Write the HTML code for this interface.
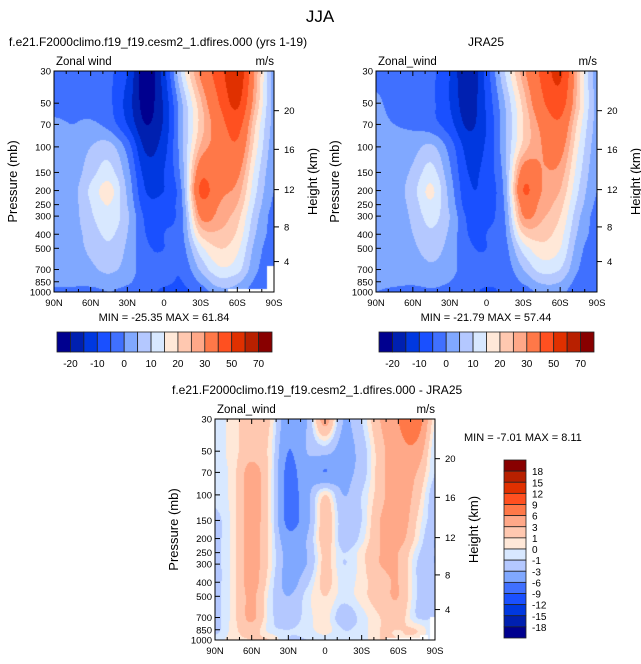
<!DOCTYPE html>
<html><head><meta charset="utf-8">
<style>
html,body{margin:0;padding:0;background:#fff;}
#wrap{position:relative;width:641px;height:664px;overflow:hidden;font-family:"Liberation Sans",sans-serif;}
canvas{position:absolute;}
svg{position:absolute;left:0;top:0;}
</style></head>
<body>
<div id="wrap">
<canvas id="c1"></canvas>
<canvas id="c2"></canvas>
<canvas id="c3"></canvas>
<svg id="ov" width="641" height="664"></svg>
</div>
<script>
const levs=[30,50,70,100,150,200,250,300,400,500,700,850,1000];
const lats=[90,75,60,45,30,15,0,-15,-30,-45,-60,-75,-90];
const latTicks=[90,60,30,0,-30,-60,-90];
const latTickLabels=["90N","60N","30N","0","30S","60S","90S"];
const heightTickLabels=["20","16","12","8","4"];
const heightTickP=[56.3,104,197,356,617];
const bounds1=[-20,-15,-10,-5,0,5,10,15,20,25,30,40,50,60,70];
const cbLabels1=["-20","-10","0","10","20","30","50","70"];
const bounds2=[-18,-15,-12,-9,-6,-3,-1,0,1,3,6,9,12,15,18];
const cesm=[
[-2,-2,-3,-4,-10,-23,-12,12,32,45,58,28,2],
[-2,-2,-3,-4,-12,-22,-14,5,24,40,52,25,3],
[1,0,1,-2,-10,-20,-14,4,22,35,44,20,3],
[2,1,5,7,-2,-16,-12,4,26,33,38,17,2],
[2,2,8,12,2,-12,-10,3,36,32,32,13,1],
[2,3,11,17,4,-10,-10,1,42,32,28,11,0],
[2,3,10,15,5,-8,-7,0,36,30,25,9,-1],
[2,3,9,14,6,-6,-6,-1,31,28,22,7,-2],
[2,3,7,11,5,-5,-5,-1,21,24,19,5,-2],
[2,3,6,9,4,-4,-5,-2,13,20,16,3,-3],
[1,2,4,6,3,-3,-4,-4,6,14,12,1,-3],
[1,1,2,3,1,-3,-4,-5,1,8,6,-1,-3],
[-1,-1,-2,0,-2,-3,-6,-6,-3,3,3,-3,-3]];
const jra=[
[-2,-3,-3,-4,-10,-20,-8,10,28,42,52,22,2],
[1,-2,-3,-4,-10,-18,-9,5,22,38,45,22,3],
[1,0,-1,-3,-8,-16,-10,4,20,32,38,18,3],
[1,1,3,6,-2,-12,-9,4,22,30,33,15,2],
[1,2,6,12,1,-10,-8,3,34,30,28,12,1],
[1,2,8,16,3,-9,-8,2,40,30,25,10,0],
[1,2,7,14,4,-8,-7,1,34,28,22,8,-1],
[1,2,6,12,5,-6,-6,0,30,26,20,6,-2],
[1,2,5,9,4,-5,-5,-1,20,22,17,4,-2],
[1,2,4,7,3,-4,-5,-2,12,18,15,2,-3],
[1,1,2,4,2,-3,-4,-3,5,12,10,0,-3],
[1,1,1,2,0,-3,-4,-4,1,6,5,-2,-3],
[0,-1,-2,-1,-2,-3,-6,-4,-3,2,2,-4,-3]];
const diff=[
[-0.5,0.5,2,1,-5,-3,4,-3,-1,3,6,8,0],
[-0.5,0.5,2,0.5,-6,-3,-2,-4,-2,2,5,5,-1],
[-0.5,0.5,4,0.5,-7,-4,-6,-4,-2,2,5,3,-1],
[-0.5,0.5,4,0.5,-7,-4,1,-3,-1,2,5,2,-2],
[-1.5,0.5,4,0.5,-7,-4,2,-2,-1,3,5,1,-2],
[-1.5,0.5,4,0.5,-5,-3,2,-2,-0.5,3,4,0.5,-3],
[-1.5,0.5,4,0.5,-4,-3,1.5,-1,0.5,3,3,-0.5,-3],
[-1.5,0.5,4,0.5,-4,-3,1.5,-1,0.5,3,3,-1,-3],
[-1.5,0.5,4,0,-4,-1.5,1.5,-0.5,0.5,2,3,-1,-2],
[-1.5,0.5,3.5,-0.5,-3,-0.5,1,-0.5,0.5,2,3,-1,-2],
[-1.5,0.5,3.5,-0.5,-2,-0.5,0.5,-2,-0.5,1,2,-1,-1],
[-1.5,0.5,2,-0.5,-1,-0.5,0.5,-1,-0.5,1,1,1,-1],
[-0.5,0.5,1,1,-1,-1,-0.5,-1,-0.5,1,1,0.5,-1]];
const mask1=[[-52,-84,950],[-84,-90,660]];
const mask2=[];
const mask3=[[-50,-78,965],[-78,-84,925],[-86,-90,690]];
const colors=["#00008f","#0020b0","#0038e0","#1a50ff","#4070ff","#80a8ff","#b4c8ff","#d8e8ff","#ffe8d8","#ffc8b0","#ffa888","#ff7848","#ff5020","#e03000","#b82000","#880000"];

const L30=Math.log(30),LR=Math.log(1000/30);
function yOf(p,top,h){return top+(Math.log(p)-L30)/LR*h;}
function xOf(lat,left,w){return left+(90-lat)/180*w;}
function cr(p0,p1,p2,p3,t){return 0.5*((2*p1)+(-p0+p2)*t+(2*p0-5*p1+4*p2-p3)*t*t+(-p0+3*p1-3*p2+p3)*t*t*t);}
function sample(g,r,c){
  const R=g.length-1,C=g[0].length-1;
  const r1=Math.min(Math.floor(r),R-1),c1=Math.min(Math.floor(c),C-1);
  const tr=r-r1,tc=c-c1;
  const rows=[];
  for(let k=-1;k<=2;k++){
    const rr=Math.max(0,Math.min(R,r1+k));
    const v=[];
    for(let m=-1;m<=2;m++){v.push(g[rr][Math.max(0,Math.min(C,c1+m))]);}
    rows.push(cr(v[0],v[1],v[2],v[3],tc));
  }
  return cr(rows[0],rows[1],rows[2],rows[3],tr);
}
const llev=levs.map(Math.log);
function fill(id,g,bounds,mask,left,top,w,h){
  const cv=document.getElementById(id);
  cv.width=w;cv.height=h;cv.style.left=left+'px';cv.style.top=top+'px';
  const ctx=cv.getContext('2d');
  const img=ctx.createImageData(w,h);
  const rgb=colors.map(c=>[parseInt(c.substr(1,2),16),parseInt(c.substr(3,2),16),parseInt(c.substr(5,2),16)]);
  for(let j=0;j<h;j++){
    const lp=L30+(j+0.5)/h*LR;const p=Math.exp(lp);
    let r=0;while(r<levs.length-2&&lp>llev[r+1])r++;
    const rf=r+Math.min(1,(lp-llev[r])/(llev[r+1]-llev[r]));
    for(let i=0;i<w;i++){
      const lat=90-(i+0.5)/w*180;
      const c=(90-lat)/15;
      let masked=false;
      for(const m of mask){if(lat<=m[0]&&lat>=m[1]&&p>=m[2])masked=true;}
      const o=(j*w+i)*4;
      if(masked){img.data[o]=255;img.data[o+1]=255;img.data[o+2]=255;img.data[o+3]=255;continue;}
      const v=sample(g,rf,c);
      let k=0;while(k<bounds.length&&v>=bounds[k])k++;
      img.data[o]=rgb[k][0];img.data[o+1]=rgb[k][1];img.data[o+2]=rgb[k][2];img.data[o+3]=255;
    }
  }
  ctx.putImageData(img,0,0);
}
const NS="http://www.w3.org/2000/svg";
const ov=document.getElementById('ov');
function el(tag,attrs,parent){const e=document.createElementNS(NS,tag);for(const k in attrs)e.setAttribute(k,attrs[k]);(parent||ov).appendChild(e);return e;}
function txt(s,x,y,size,anchor,parent,rot){const t=el('text',{x:x,y:y,'font-size':size,'text-anchor':anchor||'start','font-family':'Liberation Sans, sans-serif',fill:'#000'},parent);if(rot)t.setAttribute('transform','rotate(-90 '+x+' '+y+')');t.textContent=s;return t;}

function panel(name,left,top,w,h,title,titleX,titleAnchor,minmax,mmX,mmY,mmAnchor){
  const g=el('g',{});
  
  
  const t=txt(title,titleX,top-25,12,titleAnchor,g);
  
  
  const zl=txt(name==='cesm'?'Zonal wind':'Zonal_wind',left+2,top-6,11.5,'start',g);
  
  
  const ul=txt('m/s',left+w,top-6,11.5,'end',g);
  
  
  const fr=el('rect',{x:left,y:top,width:w,height:h,fill:'none',stroke:'#000','stroke-width':1},g);
  
  
  levs.forEach(p=>{
    const y=yOf(p,top,h);
    el('line',{x1:left,x2:left+5,y1:y,y2:y,stroke:'#000','stroke-width':1},g);
    const lb=txt(String(p),left-3,y+3.5,9.5,'end',g);
    
    
  });
  heightTickP.forEach((p,i)=>{
    const y=yOf(p,top,h);
    el('line',{x1:left+w,x2:left+w+5,y1:y,y2:y,stroke:'#000','stroke-width':1},g);
    const lb=txt(heightTickLabels[i],left+w+10,y+3.5,9.5,'start',g);
    
    
  });
  for(let lat=90;lat>=-90;lat-=10){
    const x=xOf(lat,left,w);const major=lat%30===0;
    el('line',{x1:x,x2:x,y1:top+h,y2:top+h-(major?5:3),stroke:'#000','stroke-width':1},g);
    el('line',{x1:x,x2:x,y1:top,y2:top+(major?5:3),stroke:'#000','stroke-width':1},g);
  }
  latTicks.forEach((lat,i)=>{
    const lb=txt(latTickLabels[i],xOf(lat,left,w),top+h+14,9.5,'middle',g);
    
    
  });
  const ya=txt('Pressure (mb)',left-37,top+h/2,13,'middle',g,true);
  
  
  const yb=txt('Height (km)',left+w+43,top+h/2,13,'middle',g,true);
  
  
  const mm=txt(minmax,mmX,mmY,11,mmAnchor,g);
  
  
}
function hbar(name,left,top,w,h){
  const g=el('g',{});
  
  
  const bw=w/colors.length;
  colors.forEach((c,i)=>{
    const r=el('rect',{x:left+i*bw,y:top,width:bw,height:h,fill:c,stroke:'#222','stroke-width':0.8},g);
    
    
  });
  bounds1.forEach((b,i)=>{
    if(i%2===0){
      const lb=txt(cbLabels1[i/2],left+(i+1)*bw,top+h+15,10,'middle',g);
      
      
    }
  });
}
function vbar(left,top,w,h){
  const g=el('g',{});
  
  
  const bh=h/colors.length;
  for(let i=0;i<colors.length;i++){
    const r=el('rect',{x:left,y:top+i*bh,width:w,height:bh,fill:colors[colors.length-1-i],stroke:'#222','stroke-width':0.8},g);
    
    
  }
  for(let i=0;i<bounds2.length;i++){
    const lb=txt(String(bounds2[bounds2.length-1-i]),left+w+6,top+(i+1)*bh+4,10,'start',g);
    
    
  }
}
fill('c1',cesm,bounds1,mask1,54,71,220,221);
fill('c2',jra,bounds1,mask2,376,71,221,221);
fill('c3',diff,bounds2,mask3,215,419,220,221);
const main=txt('JJA',320,22,17,'middle');


panel('cesm',54,71,220,221,'f.e21.F2000climo.f19_f19.cesm2_1.dfires.000 (yrs 1-19)',158,'middle','MIN = -25.35  MAX =  61.84',164,321,'middle');
panel('jra25',376,71,221,221,'JRA25',486,'middle','MIN = -21.79  MAX =  57.44',486,321,'middle');
panel('difference',215,419,220,221,'f.e21.F2000climo.f19_f19.cesm2_1.dfires.000 - JRA25',172,'start','MIN =  -7.01  MAX =  8.11',464,441,'start');
hbar('cesm',57,332,215,20);
hbar('jra25',379,332,215,20);
vbar(504,460,22,178);
</script>
</body></html>
